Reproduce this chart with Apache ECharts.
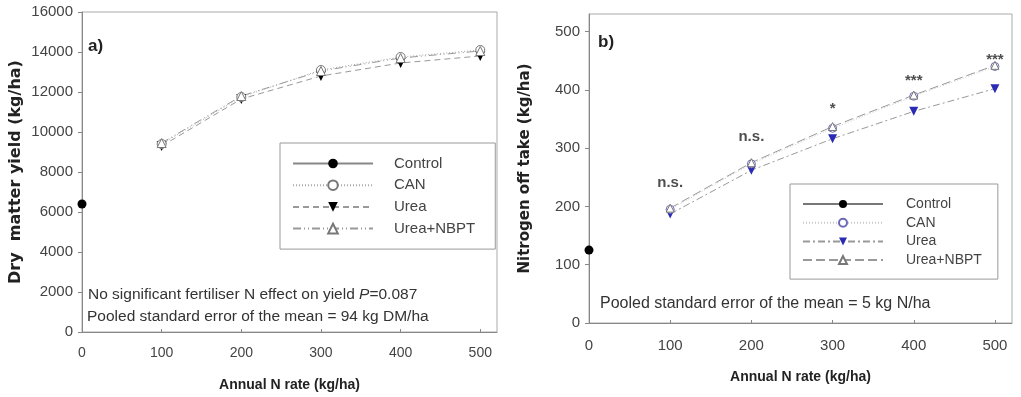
<!DOCTYPE html>
<html>
<head>
<meta charset="utf-8">
<script src="https://cdn.jsdelivr.net/npm/echarts@6/dist/echarts.min.js"></script>
<style>
  html, body { margin: 0; padding: 0; background: #fff; }
  #chart { width: 1021px; height: 397px; }
</style>
</head>
<body>
<div id="chart"></div>
<script>
// N rates (kg/ha)
var rates = [100, 200, 300, 400, 500];
var controlRate = [0];
var xTicks = [0, 100, 200, 300, 400, 500];

// a) dry matter yield (kg/ha)
var yieldControl = [6400];
var yieldCAN = [9400, 11750, 13100, 13750, 14100];
var yieldUrea = [9300, 11650, 12800, 13450, 13800];
var yieldNBPT = [9450, 11800, 13050, 13700, 14050];
var yTicksA = [0, 2000, 4000, 6000, 8000, 10000, 12000, 14000, 16000];

// b) nitrogen off take (kg/ha)
var uptakeControl = [125];
var uptakeCAN = [195, 273, 334, 389, 440];
var uptakeUrea = [187, 262, 316, 363, 402];
var uptakeNBPT = [197, 275, 337, 391, 442];
var yTicksB = [0, 100, 200, 300, 400, 500];

// significance marks above each rate in b)
var sigLabels = ['n.s.', 'n.s.', '*', '***', '***'];
var sigY = [240, 320, 368, 416, 452];

var legendNames = ['Control', 'CAN', 'Urea', 'Urea+NBPT'];
var FONT = 'Liberation Sans, Arial, sans-serif';
var WIDE = 'DejaVu Sans, sans-serif';
var triDown = 'path://M0,0L10,0L5,9Z';

function pairs(xs, ys) {
  var out = [];
  for (var i = 0; i < xs.length; i++) out.push([xs[i], ys[i]]);
  return out;
}

function xAxisOf(idx, gap, margin, size) {
  return {
    gridIndex: idx, type: 'value', min: 0, max: 521,
    name: 'Annual N rate (kg/ha)', nameLocation: 'middle', nameGap: gap,
    nameTextStyle: { fontFamily: FONT, fontWeight: 'bold', fontSize: 14, color: '#222' },
    axisLine: { show: true, onZero: false, lineStyle: { color: '#888' } },
    axisTick: { show: true, inside: true, length: 3, customValues: xTicks, lineStyle: { color: '#888' } },
    axisLabel: { customValues: xTicks, margin: margin, fontFamily: FONT, fontSize: size, color: '#444' },
    splitLine: { show: false }
  };
}

function yAxisOf(idx, max, ticks, name, gap, nameSize) {
  return {
    gridIndex: idx, type: 'value', min: 0, max: max,
    name: name, nameLocation: 'middle', nameGap: gap,
    nameTextStyle: { fontFamily: WIDE, fontWeight: 'bold', fontSize: nameSize, color: '#222' },
    axisLine: { show: true, lineStyle: { color: '#888' } },
    axisTick: { show: true, length: 4, customValues: ticks, lineStyle: { color: '#888' } },
    axisLabel: { customValues: ticks, margin: 9, fontFamily: FONT, fontSize: 15, color: '#444',
      formatter: function (v) { return String(v); } },
    splitLine: { show: false }
  };
}

var chart = echarts.init(document.getElementById('chart'));

var option = {
  backgroundColor: '#fff',
  animation: false,
  grid: [
    { left: 82, top: 12, width: 415, height: 320, show: true, borderColor: '#aaa', borderWidth: 1 },
    { left: 589, top: 14, width: 423, height: 309, show: true, borderColor: '#aaa', borderWidth: 1 }
  ],
  xAxis: [xAxisOf(0, 46, 14, 14), xAxisOf(1, 47, 15, 15)],
  yAxis: [
    yAxisOf(0, 16000, yTicksA, 'Dry  matter yield (kg/ha)', 58, 16),
    yAxisOf(1, 530, yTicksB, 'Nitrogen off take (kg/ha)', 56, 15)
  ],
  legend: [
    {
      data: legendNames, orient: 'vertical', left: 280, top: 143,
      itemWidth: 80, itemHeight: 12, itemGap: 6.7,
      padding: [13, 20, 13, 12],
      borderColor: '#999', borderWidth: 1, backgroundColor: '#fff',
      selectedMode: false,
      textStyle: { fontFamily: FONT, fontSize: 15, color: '#444', padding: [0, 0, 0, 16] }
    },
    {
      data: legendNames.map(function (n) { return n + '#b'; }), orient: 'vertical', left: 790, top: 184,
      itemWidth: 80, itemHeight: 10, itemGap: 4.7,
      padding: [13, 16, 12, 12],
      borderColor: '#999', borderWidth: 1, backgroundColor: '#fff',
      selectedMode: false,
      formatter: function (n) { return n.replace('#b', ''); },
      textStyle: { fontFamily: FONT, fontSize: 14, color: '#444', padding: [0, 0, 0, 18] }
    }
  ],
  graphic: [
    { type: 'text', left: 88, top: 38, style: { text: 'a)', fontFamily: FONT, fontWeight: 'bold', fontSize: 17, fill: '#222' } },
    { type: 'text', left: 598, top: 34, style: { text: 'b)', fontFamily: FONT, fontWeight: 'bold', fontSize: 17, fill: '#222' } },
    { type: 'text', left: 88, top: 287, style: {
        text: '{n|No significant fertiliser N effect on yield }{i|P}{n|=0.087}',
        rich: {
          n: { fontFamily: FONT, fontSize: 15.5, fill: '#333' },
          i: { fontFamily: FONT, fontSize: 15.5, fontStyle: 'italic', fill: '#333' }
        } } },
    { type: 'text', left: 87, top: 309, style: { text: 'Pooled standard error of the mean = 94 kg DM/ha', fontFamily: FONT, fontSize: 15.5, fill: '#333' } },
    { type: 'text', left: 600, top: 296, style: { text: 'Pooled standard error of the mean = 5 kg N/ha', fontFamily: FONT, fontSize: 16, fill: '#333' } }
  ],
  series: [
    // ---- a) ----
    { name: 'Control', type: 'line', xAxisIndex: 0, yAxisIndex: 0, data: pairs(controlRate, yieldControl),
      symbol: 'circle', symbolSize: 9, lineStyle: { color: '#888', width: 1 }, itemStyle: { color: '#000' } },
    { name: 'Urea', type: 'line', xAxisIndex: 0, yAxisIndex: 0, data: pairs(rates, yieldUrea),
      symbol: triDown, symbolSize: 10, lineStyle: { color: '#999', width: 1, type: [6, 4] }, itemStyle: { color: '#000' } },
    { name: 'CAN', type: 'line', xAxisIndex: 0, yAxisIndex: 0, data: pairs(rates, yieldCAN),
      symbol: 'circle', symbolSize: 9, lineStyle: { color: '#aaa', width: 1, type: [1, 2] },
      itemStyle: { color: '#fff', borderColor: '#777', borderWidth: 1 } },
    { name: 'Urea+NBPT', type: 'line', xAxisIndex: 0, yAxisIndex: 0, data: pairs(rates, yieldNBPT),
      symbol: 'triangle', symbolSize: 9, lineStyle: { color: '#999', width: 1, type: [8, 3, 1, 3, 1, 3] },
      itemStyle: { color: '#fff', borderColor: '#777', borderWidth: 1 } },
    // ---- b) ----
    { name: 'Control#b', type: 'line', xAxisIndex: 1, yAxisIndex: 1, data: pairs(controlRate, uptakeControl),
      symbol: 'circle', symbolSize: 9, lineStyle: { color: '#777', width: 1 }, itemStyle: { color: '#000' } },
    { name: 'Urea#b', type: 'line', xAxisIndex: 1, yAxisIndex: 1, data: pairs(rates, uptakeUrea),
      symbol: triDown, symbolSize: 9, lineStyle: { color: '#999', width: 1, type: [7, 3, 2, 3] }, itemStyle: { color: '#2a2ab4' } },
    { name: 'CAN#b', type: 'line', xAxisIndex: 1, yAxisIndex: 1, data: pairs(rates, uptakeCAN),
      symbol: 'circle', symbolSize: 8, lineStyle: { color: '#c8c8c8', width: 1, type: [1, 2] },
      itemStyle: { color: '#fff', borderColor: '#6a6ab8', borderWidth: 1 } },
    { name: 'Urea+NBPT#b', type: 'line', xAxisIndex: 1, yAxisIndex: 1, data: pairs(rates, uptakeNBPT),
      symbol: 'triangle', symbolSize: 8, lineStyle: { color: '#999', width: 1, type: [9, 4] },
      itemStyle: { color: '#fff', borderColor: '#777', borderWidth: 1 } },
    { name: 'sig', type: 'scatter', xAxisIndex: 1, yAxisIndex: 1, data: pairs(rates, sigY),
      symbolSize: 1, itemStyle: { color: 'rgba(0,0,0,0)' }, silent: true,
      label: { show: true, position: 'inside', fontFamily: FONT, fontWeight: 'bold', fontSize: 15, color: '#222',
        formatter: function (p) { return sigLabels[p.dataIndex]; } } }
  ]
};

chart.setOption(option);
</script>
</body>
</html>
